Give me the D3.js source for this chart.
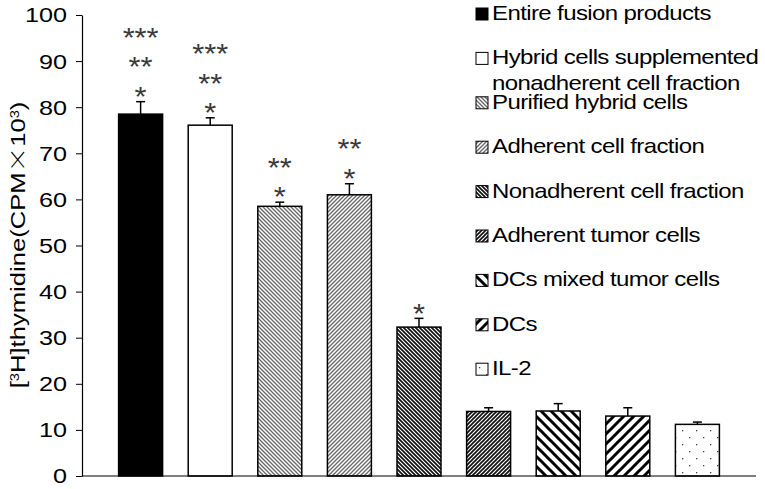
<!DOCTYPE html>
<html>
<head>
<meta charset="utf-8">
<script src="https://cdn.jsdelivr.net/npm/d3@7"></script>
<style>
  html, body { margin: 0; padding: 0; background: #fff; }
  svg { display: block; font-family: "Liberation Sans", Arial, sans-serif; }
</style>
</head>
<body>
<svg id="chart" width="765" height="489"></svg>
<script>
// data
const categories = [
  "Entire fusion products",
  "Hybrid cells supplemented nonadherent cell fraction",
  "Purified hybrid cells",
  "Adherent cell fraction",
  "Nonadherent cell fraction",
  "Adherent tumor cells",
  "DCs mixed tumor cells",
  "DCs",
  "IL-2"
];
const values = [78.5, 76.1, 58.5, 61.0, 32.3, 14.0, 14.1, 13.0, 11.2];
const errors = [2.7, 1.6, 0.9, 2.4, 1.9, 0.8, 1.6, 1.8, 0.5];
const starLevels = [3, 3, 2, 2, 1, 0, 0, 0, 0];
const yTicks = [0, 10, 20, 30, 40, 50, 60, 70, 80, 90, 100];

(function () {
  const AXIS_X = 82, AXIS_RIGHT = 756;
  const TOP = 15, BOTTOM = 476;
  const FILLS = ["#000", "#fff", "url(#p-fine-down)", "url(#p-fine-up)",
    "url(#p-dark-down)", "url(#p-dark-up)", "url(#p-wide-down)", "url(#p-wide-up)", "url(#p-dots)"];

  const svg = d3.select("#chart");
  const defs = svg.append("defs");

  // hatch patterns
  function hatch(id, size, dir, color, width) {
    const p = defs.append("pattern").attr("id", id)
      .attr("patternUnits", "userSpaceOnUse")
      .attr("width", size).attr("height", size);
    p.append("rect").attr("width", size).attr("height", size).attr("fill", "#fff");
    const segs = dir === "down"
      ? [[-size, 0, size, 2 * size], [0, 0, size, size], [0, -size, 2 * size, size]]
      : [[-size, size, size, -size], [0, size, size, 0], [0, 2 * size, 2 * size, 0]];
    segs.forEach(s => p.append("line")
      .attr("x1", s[0]).attr("y1", s[1]).attr("x2", s[2]).attr("y2", s[3])
      .attr("stroke", color).attr("stroke-width", width));
  }
  hatch("p-fine-down", 4, "down", "#6a6a6a", 1.3);
  hatch("p-fine-up", 4, "up", "#6a6a6a", 1.3);
  hatch("p-dark-down", 4, "down", "#111", 1.7);
  hatch("p-dark-up", 4, "up", "#111", 1.7);
  hatch("p-wide-down", 10, "down", "#000", 3);
  hatch("p-wide-up", 10, "up", "#000", 3);

  const dots = defs.append("pattern").attr("id", "p-dots")
    .attr("patternUnits", "userSpaceOnUse").attr("width", 14).attr("height", 14);
  dots.append("rect").attr("width", 14).attr("height", 14).attr("fill", "#fff");
  [[3, 3], [10, 10]].forEach(d => dots.append("rect")
    .attr("x", d[0]).attr("y", d[1]).attr("width", 1.3).attr("height", 1.3).attr("fill", "#444"));

  const x = d3.scaleBand().domain(categories)
    .range([AXIS_X, AXIS_RIGHT]).paddingInner(0.368).paddingOuter(0.526);
  const y = d3.scaleLinear().domain([0, 100]).range([BOTTOM, TOP]);

  // bars
  const bars = svg.append("g");
  bars.selectAll("rect").data(values).join("rect")
    .attr("x", (d, i) => x(categories[i]))
    .attr("y", d => y(d))
    .attr("width", x.bandwidth())
    .attr("height", d => y(0) - y(d))
    .attr("fill", (d, i) => FILLS[i])
    .attr("stroke", "#000").attr("stroke-width", 1.5);

  // error bars
  const err = svg.append("g").attr("stroke", "#000").attr("stroke-width", 1.5);
  values.forEach((v, i) => {
    const cx = x(categories[i]) + x.bandwidth() / 2;
    err.append("line").attr("x1", cx).attr("x2", cx).attr("y1", y(v)).attr("y2", y(v + errors[i]));
    err.append("line").attr("x1", cx - 4.5).attr("x2", cx + 4.5)
      .attr("y1", y(v + errors[i])).attr("y2", y(v + errors[i]));
  });

  // significance stars
  const STAR_FS = 28;
  const stars = svg.append("g").attr("fill", "#3a3a3a").attr("font-size", STAR_FS);
  values.forEach((v, i) => {
    const cx = x(categories[i]) + x.bandwidth() / 2;
    for (let k = 0; k < starLevels[i]; k++) {
      const cy = y(v + errors[i]) - 12 - k * 29.5;
      stars.append("text")
        .attr("transform", `translate(${cx},${cy + 0.58 * STAR_FS}) scale(1.1,1)`)
        .attr("text-anchor", "middle")
        .text("*".repeat(k + 1));
    }
  });

  // axes
  svg.append("line").attr("x1", AXIS_X).attr("x2", AXIS_RIGHT)
    .attr("y1", y(0)).attr("y2", y(0)).attr("stroke", "#000").attr("stroke-width", 1.2);

  const yAxis = svg.append("g").attr("transform", `translate(${AXIS_X},0)`)
    .call(d3.axisLeft(y).tickValues(yTicks).tickSize(6).tickSizeOuter(0).tickFormat(d3.format("d")));
  yAxis.select(".domain").attr("stroke", "#000").attr("stroke-width", 1.2);
  yAxis.selectAll(".tick line").attr("stroke", "#000");
  yAxis.selectAll(".tick text")
    .attr("font-family", "'Liberation Sans', Arial, sans-serif")
    .attr("font-size", 21).attr("fill", "#000")
    .attr("x", -15 / 1.2).attr("dy", "0.33em")
    .attr("transform", "scale(1.2,1)");

  // y title
  const title = svg.append("text")
    .attr("transform", "translate(18,245) rotate(-90) scale(1.22,1)")
    .attr("text-anchor", "middle").attr("dy", "0.35em")
    .attr("font-size", 21).attr("fill", "#000");
  title.append("tspan").text("[");
  title.append("tspan").attr("font-size", 12).attr("baseline-shift", "super").text("3");
  title.append("tspan").text("H]thymidine(CPM");
  title.append("tspan").attr("font-family", "'Noto Sans CJK SC'").attr("font-weight", 300).text("×");
  title.append("tspan").text("10");
  title.append("tspan").attr("font-size", 12).attr("baseline-shift", "super").text("3");
  title.append("tspan").text(")");

  // legend
  function wrap(str, maxLen) {
    const lines = [];
    let cur = "";
    str.split(" ").forEach(w => {
      if (cur && (cur + " " + w).length > maxLen) { lines.push(cur); cur = w; }
      else cur = cur ? cur + " " + w : w;
    });
    lines.push(cur);
    return lines;
  }
  const legend = svg.append("g");
  categories.forEach((c, i) => {
    const base = 20 + i * 44.4;
    legend.append("rect").attr("x", 476).attr("y", base - 12)
      .attr("width", 12).attr("height", 12)
      .attr("fill", FILLS[i]).attr("stroke", "#000").attr("stroke-width", 1);
    wrap(c, 26).forEach((line, j) => {
      legend.append("text")
        .attr("transform", `translate(492,${base + j * 26}) scale(1.2,1)`)
        .attr("font-size", 20).attr("fill", "#000")
        .attr("letter-spacing", -0.5)
        .text(line);
    });
  });
})();
</script>
</body>
</html>
